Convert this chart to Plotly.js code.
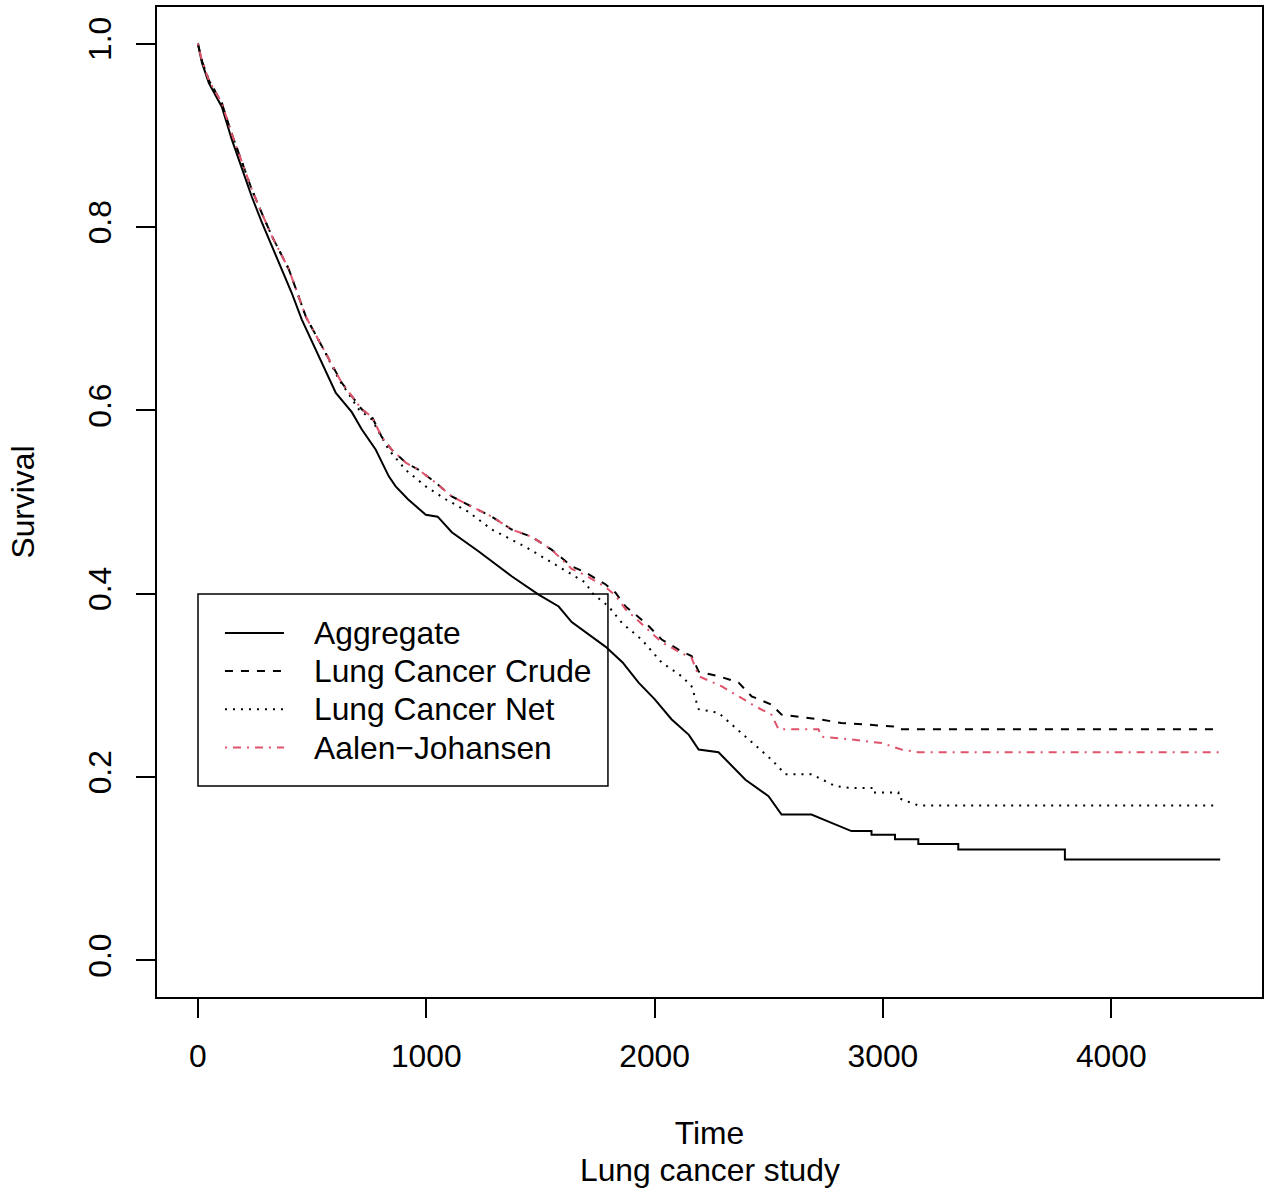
<!DOCTYPE html>
<html>
<head>
<meta charset="utf-8">
<script src="https://cdn.plot.ly/plotly-3.0.1.min.js"></script>
<style>html,body{margin:0;padding:0;background:#fff;}#chart{width:1272px;height:1189px;}</style>
</head>
<body>
<div id="chart"></div>
<script>
// Aggregate (solid)
var aggTime = [0,18,48,105,149,193,236,280,324,368,411,455,516,560,604,674,718,779,836,866,920,998,1050,1112,1230,1374,1492,1580,1637,1786,1860,1930,2000,2074,2150,2193,2280,2398,2499,2556,2687,2775,2862,2950,2950,3053,3053,3155,3155,3330,3330,3797,3797,4477];
var aggSurv = [1.0,0.979,0.957,0.931,0.895,0.863,0.833,0.805,0.779,0.754,0.728,0.699,0.666,0.644,0.619,0.598,0.579,0.557,0.528,0.517,0.503,0.486,0.484,0.467,0.446,0.419,0.399,0.386,0.369,0.342,0.325,0.303,0.285,0.263,0.246,0.230,0.227,0.197,0.179,0.159,0.159,0.150,0.141,0.141,0.137,0.137,0.132,0.132,0.127,0.127,0.121,0.121,0.110,0.110];

// Lung Cancer Crude (dashed)
var crudeTime = [0,18,48,105,149,193,236,280,324,398,473,543,630,718,762,805,849,910,967,1042,1112,1199,1287,1374,1462,1549,1637,1698,1786,1829,1873,1961,2031,2118,2162,2193,2280,2368,2425,2512,2556,2718,2818,3053,3068,4459];
var crudeSurv = [1.0,0.981,0.960,0.935,0.901,0.871,0.841,0.815,0.790,0.754,0.702,0.670,0.630,0.601,0.593,0.571,0.557,0.543,0.535,0.521,0.506,0.495,0.484,0.470,0.462,0.448,0.430,0.423,0.410,0.401,0.386,0.368,0.350,0.337,0.332,0.315,0.310,0.303,0.288,0.279,0.268,0.263,0.259,0.255,0.252,0.252];

// Lung Cancer Net (dotted)
var netTime = [0,18,48,105,149,193,236,280,324,398,473,543,617,705,762,836,910,998,1085,1186,1287,1435,1580,1698,1725,1799,1857,1943,2031,2118,2162,2193,2280,2398,2512,2573,2687,2792,2862,2950,2950,3068,3068,3155,4459];
var netSurv = [1.0,0.981,0.960,0.935,0.901,0.871,0.841,0.815,0.790,0.754,0.702,0.670,0.634,0.601,0.590,0.557,0.535,0.517,0.503,0.489,0.470,0.451,0.430,0.412,0.401,0.386,0.368,0.350,0.325,0.310,0.299,0.274,0.270,0.244,0.219,0.203,0.203,0.190,0.188,0.188,0.183,0.183,0.177,0.169,0.169];

// Aalen-Johansen (dot-dash, red)
var ajTime = [0,18,48,105,149,193,236,280,324,398,473,543,630,718,762,805,849,910,967,1042,1112,1199,1287,1374,1462,1549,1637,1698,1786,1829,1873,1961,2031,2118,2162,2193,2293,2368,2442,2512,2543,2718,2731,2862,2994,3081,3155,4481];
var ajSurv = [1.0,0.981,0.960,0.935,0.901,0.871,0.841,0.815,0.790,0.754,0.702,0.670,0.630,0.601,0.593,0.571,0.557,0.543,0.535,0.521,0.506,0.495,0.484,0.470,0.462,0.448,0.427,0.420,0.407,0.398,0.383,0.363,0.347,0.335,0.330,0.310,0.299,0.288,0.277,0.268,0.252,0.252,0.244,0.241,0.237,0.230,0.227,0.227];

var xTicks = [0,1000,2000,3000,4000];
var yTicks = [0.0,0.2,0.4,0.6,0.8,1.0];
var yTickText = ["0.0","0.2","0.4","0.6","0.8","1.0"];
var seriesNames = ["Aggregate","Lung Cancer Crude","Lung Cancer Net","Aalen\u2212Johansen"];

var FONT = "Liberation Sans, Arial, Helvetica, sans-serif";
var FS = 31.8;
var colors = ["#000000","#000000","#000000","#DF536B"];
var dashes = ["solid","8px,8px","2px,6px","2px,6px,8px,6px"];

var series = [[aggTime, aggSurv],[crudeTime, crudeSurv],[netTime, netSurv],[ajTime, ajSurv]];
var traces = series.map(function(s, i){
  return {x: s[0], y: s[1], name: seriesNames[i], mode: "lines", showlegend: false,
          line: {color: colors[i], width: 2, dash: dashes[i]}};
});

// legend drawn with shapes + annotations (R-style legend box)
var legRowY = [0.3677, 0.3293, 0.2906, 0.2520];
var shapes = [
  {type: "rect", xref: "paper", yref: "paper", x0: 0.0371, x1: 0.4081, y0: 0.2131, y1: 0.4071,
   line: {color: "#000", width: 1.5}, fillcolor: "rgba(0,0,0,0)"}
];
var annotations = [
  {text: "Lung cancer study", xref: "paper", yref: "paper", x: 0.5, y: 0, xanchor: "center", yanchor: "middle",
   yshift: -173, showarrow: false, font: {family: FONT, size: FS, color: "#000"}}
];
seriesNames.forEach(function(n, i){
  shapes.push({type: "line", xref: "paper", yref: "paper", x0: 0.0615, x1: 0.1149, y0: legRowY[i], y1: legRowY[i],
               line: {color: colors[i], width: 2, dash: dashes[i]}});
  annotations.push({text: n, xref: "paper", yref: "paper", x: 0.1403, y: legRowY[i], xanchor: "left", yanchor: "middle",
                    showarrow: false, font: {family: FONT, size: FS, color: "#000"}});
});

var layout = {
  width: 1272, height: 1189,
  paper_bgcolor: "#ffffff", plot_bgcolor: "#ffffff",
  font: {family: FONT, size: FS, color: "#000000"},
  margin: {l: 157, r: 10, t: 7, b: 192, pad: 0},
  showlegend: false,
  xaxis: {
    range: [-179.2, 4660.2], tickvals: xTicks, ticktext: xTicks.map(String),
    ticks: "outside", ticklen: 19, tickwidth: 2, tickcolor: "#000", ticklabelstandoff: 11,
    showline: true, linewidth: 2, linecolor: "#000", mirror: true,
    showgrid: false, zeroline: false,
    tickfont: {family: FONT, size: FS},
    title: {text: "Time", font: {family: FONT, size: FS}, standoff: 49}
  },
  yaxis: {
    range: [-0.04, 1.04], tickvals: yTicks, ticktext: yTickText, tickangle: -90,
    ticks: "outside", ticklen: 19, tickwidth: 2, tickcolor: "#000", ticklabelstandoff: 12,
    showline: true, linewidth: 2, linecolor: "#000", mirror: true,
    showgrid: false, zeroline: false,
    tickfont: {family: FONT, size: FS},
    title: {text: "Survival", font: {family: FONT, size: FS}, standoff: 38}
  },
  shapes: shapes,
  annotations: annotations
};

Plotly.newPlot("chart", traces, layout, {displayModeBar: false, staticPlot: true});
</script>
</body>
</html>
